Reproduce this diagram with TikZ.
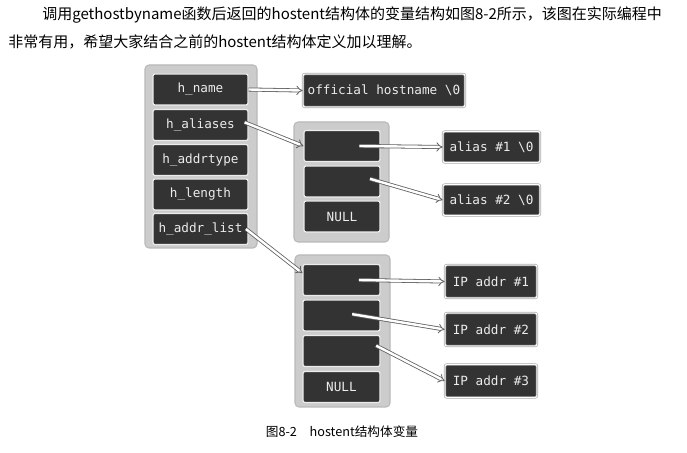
\documentclass[tikz,border=0pt]{standalone}
\usepackage{fontspec}
\newfontfamily\cjk{Noto Sans CJK SC}
\newfontfamily\codefont{DejaVu Sans Mono}
\usetikzlibrary{arrows.meta}

\begin{document}
\begin{tikzpicture}[x=0.75pt, y=-0.75pt,
    holder/.style={fill=gray!40, draw=gray!55, line width=0.8pt, rounded corners=3pt},
    cell/.style={fill=black!80, draw=white!85!gray, line width=0.9pt, rounded corners=1.5pt,
      text=white!85!gray, font=\codefont\fontsize{9.5}{11}\selectfont,
      minimum height=23.25pt, inner sep=0pt},
    target/.style={cell, draw=gray!65, line width=0.5pt, double=white, double distance=0.7pt},
    link/.style={draw=gray!75!black, line width=0.6pt, double=white, double distance=1.8pt,
      -{Implies[length=4pt, width=9pt]}}]
    % Page
    \fill[white] (0,0) rectangle (687,453);
    \node[anchor=west, inner sep=0pt, font=\cjk\fontsize{11.25}{13}\selectfont] (line1) at (42,15)
      {调用gethostbyname函数后返回的hostent结构体的变量结构如图8-2所示，该图在实际编程中};
    \node[anchor=west, inner sep=0pt, font=\cjk\fontsize{11.25}{13}\selectfont] (line2) at (8,42)
      {非常有用，希望大家结合之前的hostent结构体定义加以理解。};

    % struct hostent
    \draw[holder] (145,65) rectangle (257,248);
    \node[cell, minimum width=71.25pt] (hname) at (200.5,89.5) {h\_name};
    \node[cell, minimum width=71.25pt] (haliases) at (200.5,125) {h\_aliases};
    \node[cell, minimum width=71.25pt] (haddrtype) at (200.5,160) {h\_addrtype};
    \node[cell, minimum width=71.25pt] (hlength) at (200.5,194.5) {h\_length};
    \node[cell, minimum width=71.25pt] (haddrlist) at (200.5,229) {h\_addr\_list};

    \node[target, minimum width=121.5pt, minimum height=24.75pt] (official) at (384,90.5)
      {official hostname \textbackslash 0};

    % Alias pointer array
    \draw[holder] (294,122) rectangle (389,242);
    \node[cell, minimum width=57pt] (al1) at (342,146) {};
    \node[cell, minimum width=57pt] (al2) at (342,181.5) {};
    \node[cell, minimum width=57pt] (alnull) at (342,216.5) {NULL};
    \node[target, minimum width=72.75pt] (alias1) at (491.5,147) {alias \#1 \textbackslash 0};
    \node[target, minimum width=72.75pt] (alias2) at (491.5,200) {alias \#2 \textbackslash 0};

    % Address pointer array
    \draw[holder] (295,255) rectangle (390,407);
    \node[cell, minimum width=57.75pt] (ad1) at (341.5,280) {};
    \node[cell, minimum width=57.75pt] (ad2) at (341.5,315.5) {};
    \node[cell, minimum width=57.75pt] (ad3) at (341.5,351) {};
    \node[cell, minimum width=57.75pt] (adnull) at (341.5,387) {NULL};
    \node[target, minimum width=69pt, minimum height=24.75pt] (ip1) at (491,281.5) {IP addr \#1};
    \node[target, minimum width=69pt, minimum height=24.75pt] (ip2) at (491,329.5) {IP addr \#2};
    \node[target, minimum width=69pt, minimum height=24.75pt] (ip3) at (491,381) {IP addr \#3};

    % Pointers
    \draw[link] (hname.east) -- (official.west);
    \draw[link] ([xshift=-3pt,yshift=2pt]haliases.east) -- (al1.west);
    \draw[link] ([xshift=13pt]al1.center) -- (alias1.west);
    \draw[link] ([xshift=21pt,yshift=2pt]al2.center) -- (alias2.west);
    \draw[link] ([xshift=-2pt]haddrlist.east) -- (ad1.170);
    \draw[link] ([xshift=13pt]ad1.center) -- (ip1.west);
    \draw[link] ([xshift=8pt,yshift=1pt]ad2.center) -- (ip2.west);
    \draw[link] ([xshift=26pt,yshift=4pt]ad3.center) -- (ip3.west);

    % Caption
    \node[font=\cjk\fontsize{9.5}{11}\selectfont] (caption) at (342,432) {图8-2\quad hostent结构体变量};
\end{tikzpicture}
\end{document}
